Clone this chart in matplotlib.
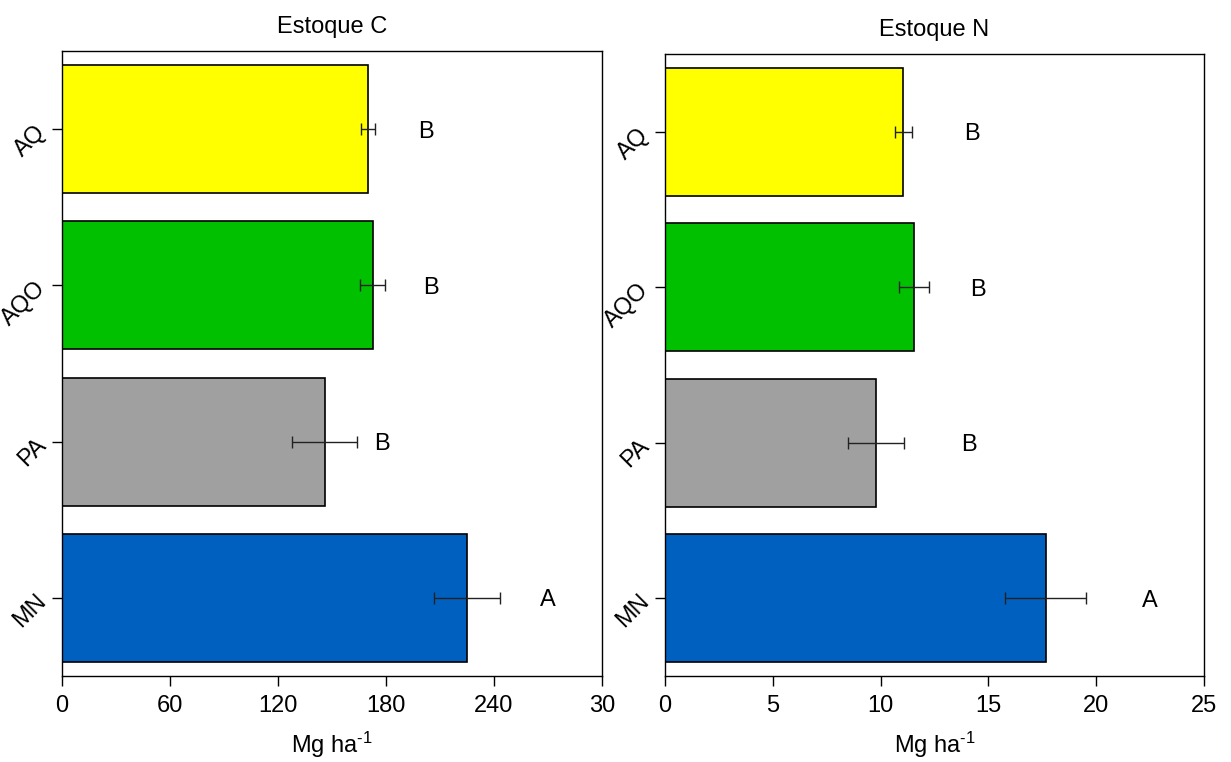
import matplotlib
matplotlib.use("Agg")
import matplotlib.pyplot as plt

plt.rcParams['font.family'] = ['Liberation Sans', 'DejaVu Sans']
plt.rcParams['mathtext.fontset'] = 'custom'
plt.rcParams['mathtext.rm'] = 'Liberation Sans'
plt.rcParams['mathtext.it'] = 'Liberation Sans:italic'
plt.rcParams['mathtext.bf'] = 'Liberation Sans:bold'

categories = ['MN', 'PA', 'AQO', 'AQ']
colors = ['#0060C0', '#A0A0A0', '#00C000', '#FFFF00']

stock_c = [225, 146, 172.5, 170]
stock_c_err = [18.5, 18, 7, 4]
letters_c = ['A', 'B', 'B', 'B']
letter_x_c = [270, 178, 205, 202]
xticks_c = [0, 60, 120, 180, 240, 300]
xticklabels_c = ['0', '60', '120', '180', '240', '30']

stock_n = [17.65, 9.8, 11.55, 11.05]
stock_n_err = [1.9, 1.3, 0.7, 0.4]
letters_n = ['A', 'B', 'B', 'B']
letter_x_n = [22.5, 14.1, 14.5, 14.25]
xticks_n = [0, 5, 10, 15, 20, 25]
xticklabels_n = ['0', '5', '10', '15', '20', '25']

fig = plt.figure(figsize=(12.31, 7.62), dpi=100)
ax1 = fig.add_axes([62/1231, 86/762, 540/1231, 625/762])
ax2 = fig.add_axes([665/1231, 86/762, 539/1231, 622/762])

def draw(ax, vals, errs, letters, lx, xt, xtl, xmax, title):
    y = list(range(len(categories)))
    ax.barh(y, vals, height=0.82, color=colors, edgecolor='black', linewidth=1.2, zorder=2)
    ax.errorbar(vals, y, xerr=errs, fmt='none', ecolor='#222222', elinewidth=1.0,
                capsize=4.5, capthick=1.0, zorder=3)
    for yi, t, x in zip(y, letters, lx):
        ax.text(x, yi, t, ha='center', va='center_baseline', fontsize=17)
    ax.set_xlim(0, xmax)
    ax.set_ylim(-0.5, 3.5)
    ax.set_xticks(xt)
    ax.set_xticklabels(xtl, fontsize=17)
    ax.set_yticks(y)
    ax.set_yticklabels(categories, fontsize=17, rotation=45, ha='right', va='center',
                       rotation_mode='anchor')
    ax.tick_params(axis='both', direction='out', length=7, width=1, pad=7)
    ax.set_xlabel('Mg ha$^{\\text{-1}}$', fontsize=17, labelpad=9)
    ax.set_title(title, fontsize=17, pad=13)
    for s in ax.spines.values():
        s.set_linewidth(1.0)

draw(ax1, stock_c, stock_c_err, letters_c, letter_x_c, xticks_c, xticklabels_c, 300, 'Estoque C')
draw(ax2, stock_n, stock_n_err, letters_n, letter_x_n, xticks_n, xticklabels_n, 25, 'Estoque N')

fig.savefig('out.png', dpi=100)
